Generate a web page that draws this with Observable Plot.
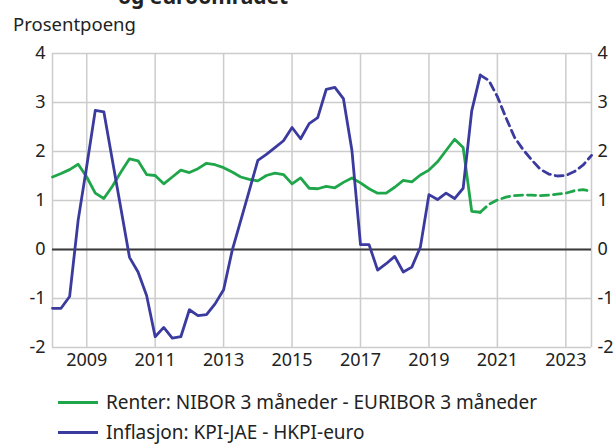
<!DOCTYPE html>
<html>
<head>
<meta charset="utf-8">
<script src="https://cdn.jsdelivr.net/npm/d3@7"></script>
<script src="https://cdn.jsdelivr.net/npm/@observablehq/plot@0.6"></script>
<style>
  html, body { margin: 0; padding: 0; }
  body { width: 614px; height: 444px; overflow: hidden; background: #fff; position: relative;
         font-family: "Noto Sans", sans-serif; color: #222; }
  #title { position: absolute; left: 118px; top: -19px; font-weight: bold; font-size: 21px; line-height: 30px; white-space: nowrap; }
  #ylabel { position: absolute; left: 13px; top: 11px; font-size: 18.5px; line-height: 26px; white-space: nowrap; }
  #chart { position: absolute; left: 0; top: 40px; }
  #legend { position: absolute; left: 58px; top: 387px; font-size: 19px; }
  .item { display: flex; align-items: center; height: 30px; white-space: nowrap; }
  .swatch { width: 40px; height: 3px; margin-right: 8px; }
</style>
</head>
<body>
<div id="title">og euroområdet</div>
<div id="ylabel">Prosentpoeng</div>
<div id="chart"></div>
<div id="legend"></div>
<script>
// ---- Data (quarterly, first quarter = 2008 K1) ----
const startYear = 2008;
const seriesNames = ["Renter: NIBOR 3 måneder - EURIBOR 3 måneder", "Inflasjon: KPI-JAE - HKPI-euro"];
const seriesColors = ["#1fa64a", "#3b3a9e"];
const renter = [
  1.48, 1.55, 1.63, 1.74, 1.48, 1.15, 1.04, 1.29,
  1.58, 1.85, 1.81, 1.53, 1.51, 1.34, 1.48, 1.62,
  1.57, 1.65, 1.76, 1.73, 1.67, 1.58, 1.48, 1.43,
  1.40, 1.51, 1.56, 1.53, 1.34, 1.46, 1.25, 1.24,
  1.29, 1.26, 1.37, 1.46, 1.36, 1.24, 1.15, 1.15,
  1.27, 1.41, 1.38, 1.52, 1.62, 1.79, 2.02, 2.25,
  2.08, 0.78, 0.76, 0.92, 1.01, 1.07, 1.10, 1.11,
  1.11, 1.10, 1.11, 1.13, 1.15, 1.20, 1.22, 1.19
];
const inflasjon = [
  -1.20, -1.20, -0.96, 0.60, 1.70, 2.84, 2.81, 1.82,
  0.83, -0.16, -0.46, -0.94, -1.78, -1.59, -1.81, -1.78,
  -1.23, -1.35, -1.33, -1.11, -0.82, -0.02, 0.59, 1.20,
  1.82, 1.94, 2.08, 2.22, 2.49, 2.26, 2.57, 2.69,
  3.27, 3.31, 3.08, 2.02, 0.10, 0.10, -0.42, -0.29,
  -0.14, -0.46, -0.36, 0.05, 1.12, 1.02, 1.15, 1.04,
  1.25, 2.83, 3.56, 3.45, 3.12, 2.69, 2.29, 2.04,
  1.83, 1.64, 1.54, 1.50, 1.51, 1.59, 1.72, 1.92
];
const forecastFrom = 50; // index of 2020 K3: dashed projection from here on
const xDomain = [2008, 2023.75];
const xTicks = [2009, 2011, 2013, 2015, 2017, 2019, 2021, 2023];
const yDomain = [-2, 4];
const yTicks = [-2, -1, 0, 1, 2, 3, 4];

// ---- Build table ----
const rows = [];
[renter, inflasjon].forEach((vals, s) => {
  vals.forEach((v, i) => rows.push({ t: startYear + i / 4, v, s: seriesNames[s], i }));
});
const hist = rows.filter(d => d.i <= forecastFrom);
const proj = rows.filter(d => d.i >= forecastFrom);

const grid = { stroke: "#cccccc", strokeOpacity: 1, strokeWidth: 1.5 };
const fmt = d => String(d);

const chart = Plot.plot({
  width: 614,
  height: 340,
  marginLeft: 52,
  marginRight: 23,
  marginTop: 13,
  marginBottom: 33,
  style: { fontFamily: "Noto Sans, sans-serif", fontSize: "18px", color: "#222", background: "transparent", overflow: "visible" },
  x: { domain: xDomain, axis: null },
  y: { domain: yDomain, axis: null },
  color: { domain: seriesNames, range: seriesColors },
  marks: [
    Plot.gridY(yTicks, grid),
    Plot.gridX(xTicks, grid),
    Plot.ruleX(xDomain, grid),
    Plot.ruleY([0], { stroke: "#3a3a3a", strokeWidth: 1.8 }),
    Plot.lineY(hist, { x: "t", y: "v", z: "s", stroke: "s", strokeWidth: 2.8 }),
    Plot.lineY(proj, { x: "t", y: "v", z: "s", stroke: "s", strokeWidth: 2.8, strokeDasharray: "8,5" }),
    Plot.axisY(yTicks, { anchor: "left", label: null, tickSize: 0, tickPadding: 7, tickFormat: fmt }),
    Plot.axisY(yTicks, { anchor: "right", label: null, tickSize: 0, tickPadding: 6, tickFormat: fmt }),
    Plot.axisX(xTicks, { anchor: "bottom", label: null, tickSize: 0, tickPadding: 6, tickFormat: fmt })
  ]
});
document.getElementById("chart").appendChild(chart);

// ---- Legend ----
const legend = document.getElementById("legend");
seriesNames.forEach((name, k) => {
  const item = document.createElement("div");
  item.className = "item";
  const sw = document.createElement("span");
  sw.className = "swatch";
  sw.style.background = seriesColors[k];
  const lab = document.createElement("span");
  lab.textContent = name;
  item.appendChild(sw);
  item.appendChild(lab);
  legend.appendChild(item);
});
</script>
</body>
</html>
